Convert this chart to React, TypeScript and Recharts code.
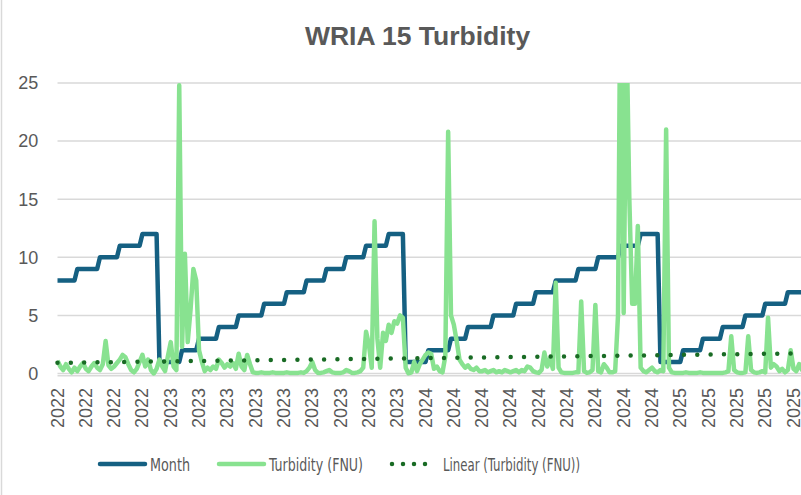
import React from 'react';
import { LineChart, Line, XAxis, YAxis, CartesianGrid } from 'recharts';

const chartTitle = 'WRIA 15 Turbidity';
const seriesNames = ['Month', 'Turbidity (FNU)', 'Linear (Turbidity (FNU))'];
const yTicks = [0, 5, 10, 15, 20, 25];
const startYear = 2022;

// Month number of each sample
const months = [
  8, 8, 8, 8, 8, 8, 8,
  9, 9, 9, 9, 9, 9, 9, 9,
  10, 10, 10, 10, 10, 10, 10,
  11, 11, 11, 11, 11, 11, 11, 11,
  12, 12, 12, 12, 12, 12,
  1, 1, 1, 1, 1, 1, 1, 1,
  2, 2, 2, 2, 2, 2,
  3, 3, 3, 3, 3, 3, 3,
  4, 4, 4, 4, 4, 4, 4,
  5, 5, 5, 5, 5, 5, 5, 5, 5,
  6, 6, 6, 6, 6, 6, 6, 6,
  7, 7, 7, 7, 7, 7, 7,
  8, 8, 8, 8, 8, 8, 8,
  9, 9, 9, 9, 9, 9, 9,
  10, 10, 10, 10, 10, 10, 10,
  11, 11, 11, 11, 11, 11, 11, 11,
  12, 12, 12, 12, 12, 12,
  1, 1, 1, 1, 1, 1, 1, 1,
  2, 2, 2, 2, 2, 2, 2, 2,
  3, 3, 3, 3, 3, 3,
  4, 4, 4, 4, 4, 4, 4, 4, 4,
  5, 5, 5, 5, 5, 5, 5, 5,
  6, 6, 6, 6, 6, 6, 6,
  7, 7, 7, 7, 7, 7, 7,
  8, 8, 8, 8, 8, 8, 8, 8,
  9, 9, 9, 9, 9, 9, 9,
  10, 10, 10, 10, 10, 10, 10, 10,
  11, 11, 11, 11, 11, 11, 11,
  12, 12, 12, 12, 12, 12, 12,
  1, 1, 1, 1, 1, 1, 1, 1,
  2, 2, 2, 2, 2, 2, 2,
  3, 3, 3, 3, 3, 3, 3,
  4, 4, 4, 4, 4, 4, 4, 4,
  5, 5, 5, 5, 5, 5, 5,
  6, 6, 6, 6, 6, 6, 6, 6,
  7, 7, 7, 7, 7, 7, 7, 7, 7, 7, 7, 7,
];

// Turbidity (FNU) of each sample
const turbidity = [
  1.1, 0.6, 0.3, 0.8, 0.4, 0.1, 0.5, 0.2, 0.6, 0.9,
  0.4, 0.2, 0.6, 0.9, 0.5, 0.3, 0.8, 2.8, 0.7, 0.4,
  0.6, 0.9, 1.2, 1.6, 1.4, 0.8, 0.3, 0.1, 0.4, 1.0,
  1.6, 0.6, 1.2, 0.3, 0.0, 0.4, 1.2, 0.6, 0.2, 1.5,
  2.7, 0.6, 0.3, 24.8, 2.3, 10.3, 2.7, 5.5, 9.0, 8.0,
  2.0, 1.0, 0.2, 0.5, 0.3, 0.6, 0.4, 1.2, 0.9, 0.5,
  0.8, 0.6, 0.9, 0.4, 1.7, 0.6, 0.3, 1.6, 0.8, 0.1,
  0.05, 0.05, 0.1, 0.05, 0.05, 0.05, 0.1, 0.05, 0.05, 0.05,
  0.05, 0.1, 0.05, 0.05, 0.05, 0.05, 0.1, 0.05, 0.2, 0.5,
  1.0, 0.3, 0.05, 0.05, 0.1, 0.2, 0.3, 0.1, 0.05, 0.05,
  0.05, 0.1, 0.3, 0.2, 0.05, 0.05, 0.1, 0.2, 0.5, 3.6,
  2.5, 0.5, 13.1, 3.0, 0.5, 3.5, 2.8, 4.2, 3.5, 4.5,
  4.3, 5.0, 4.8, 0.5, 0.0, 0.1, 1.0, 0.2, 0.8, 1.2,
  1.6, 1.8, 1.7, 0.4, 0.6, 0.2, 0.1, 1.5, 20.8, 5.0,
  4.2, 2.8, 1.2, 0.8, 0.5, 0.7, 0.4, 0.3, 0.5, 0.2,
  0.2, 0.3, 0.1, 0.2, 0.3, 0.1, 0.2, 0.1, 0.3, 0.2,
  0.1, 0.2, 0.3, 0.1, 0.3, 0.2, 0.6, 0.5, 0.2, 0.1,
  0.05, 0.3, 1.8, 0.6, 1.3, 0.4, 7.8, 0.5, 0.1, 0.05,
  0.05, 0.05, 0.05, 0.1, 0.1, 6.2, 0.2, 0.05, 0.1, 0.3,
  5.9, 0.2, 0.1, 0.8, 0.5, 0.1, 0.1, 0.2, 5.0, 40,
  5.2, 30, 15, 6.0, 6.0, 12.7, 0.5, 0.2, 0.1, 0.3,
  0.5, 0.2, 0.1, 0.3, 0.2, 21.0, 0.5, 0.1, 0.05, 0.05,
  0.05, 0.05, 0.1, 0.05, 0.05, 0.05, 0.05, 0.1, 0.05, 0.05,
  0.05, 0.05, 0.05, 0.05, 0.05, 0.05, 0.1, 0.2, 3.2, 0.3,
  0.1, 0.05, 0.05, 0.1, 3.2, 0.3, 0.1, 0.05, 0.1, 0.2,
  0.1, 4.8, 0.5, 0.8, 0.6, 0.2, 0.4, 0.1, 0.3, 2.0,
  0.4, 0.2, 0.8, 0.3, 0.2, 0.5, 0.3, 0.2, 0.4, 0.3,
];

// Linear trendline end values (first and last sample)
const trendEnds = [0.92, 1.75];

// Year tick labels for every sample
const years: string[] = [];
{
  let yr = startYear;
  months.forEach((m, i) => {
    if (i > 0 && m < months[i - 1]) yr += 1;
    years.push(String(yr));
  });
}

const data = months.map((m, i) => ({
  idx: i,
  month: m,
  turbidity: turbidity[i],
  trend: i === 0 ? trendEnds[0] : i === months.length - 1 ? trendEnds[1] : null,
}));

const COLOR_MONTH = '#156082';
const COLOR_TURB = '#88e290';
const COLOR_TREND = '#196b24';
const TEXT = '#595959';
const FONT = "'Liberation Sans', Arial, sans-serif";
const NARROW = "'Liberation Sans Narrow', 'Arial Narrow', 'DejaVu Sans Condensed', sans-serif";

const XTick = (props: any) => {
  const { x, y, payload } = props;
  return (
    <text
      x={x}
      y={y}
      transform={`rotate(-90 ${x} ${y})`}
      textAnchor="end"
      dominantBaseline="central"
      fill={TEXT}
      fontSize={18}
      fontFamily={FONT}
    >
      {years[payload.value]}
    </text>
  );
};

export default function App() {
  return (
    <div
      style={{
        position: 'absolute',
        left: 0,
        top: 0,
        width: 801,
        height: 495,
        overflow: 'hidden',
        background: '#ffffff',
      }}
    >
      <LineChart
        width={819}
        height={436}
        data={data}
        margin={{ top: 83, right: 0, bottom: 0, left: 0 }}
      >
        <CartesianGrid vertical={false} stroke="#d9d9d9" strokeWidth={1.5} />
        <XAxis
          dataKey="idx"
          type="category"
          interval={9}
          height={60.18}
          axisLine={false}
          tickLine={false}
          tickSize={6}
          tickMargin={6.18}
          tick={<XTick />}
        />
        <YAxis
          type="number"
          domain={[-0.2, 25]}
          ticks={yTicks}
          allowDataOverflow
          width={57.5}
          axisLine={false}
          tickLine={false}
          tickSize={6}
          tickMargin={13.2}
          tick={{ fill: TEXT, fontSize: 18, fontFamily: FONT }}
        />
        <Line
          dataKey="month"
          name={seriesNames[0]}
          stroke={COLOR_MONTH}
          strokeWidth={4.5}
          strokeLinejoin="round"
          dot={false}
          activeDot={false}
          isAnimationActive={false}
        />
        <Line
          dataKey="turbidity"
          name={seriesNames[1]}
          stroke={COLOR_TURB}
          strokeWidth={4.5}
          strokeLinejoin="round"
          dot={false}
          activeDot={false}
          isAnimationActive={false}
        />
        <Line
          dataKey="trend"
          name={seriesNames[2]}
          stroke={COLOR_TREND}
          strokeWidth={4.5}
          strokeLinecap="round"
          strokeDasharray="0 13.33"
          connectNulls
          dot={false}
          activeDot={false}
          isAnimationActive={false}
        />
      </LineChart>
      <svg
        width={801}
        height={495}
        style={{ position: 'absolute', left: 0, top: 0, pointerEvents: 'none' }}
      >
        <line x1={1.5} y1={0} x2={1.5} y2={495} stroke="#d9d9d9" strokeWidth={1.5} />
        <text
          x={417.5}
          y={45}
          textAnchor="middle"
          fill={TEXT}
          fontSize={26.5}
          fontWeight="bold"
          fontFamily={FONT}
        >
          {chartTitle}
        </text>
        <line x1={100} y1={464} x2={145} y2={464} stroke={COLOR_MONTH} strokeWidth={4.5} strokeLinecap="round" />
        <text x={150} y={470.5} fill={TEXT} fontSize={18.5} fontFamily={NARROW} textLength={40} lengthAdjust="spacingAndGlyphs">
          {seriesNames[0]}
        </text>
        <line x1={219} y1={464} x2={264} y2={464} stroke={COLOR_TURB} strokeWidth={4.5} strokeLinecap="round" />
        <text x={269} y={470.5} fill={TEXT} fontSize={18.5} fontFamily={NARROW} textLength={94} lengthAdjust="spacingAndGlyphs">
          {seriesNames[1]}
        </text>
        <line x1={392} y1={464} x2={436} y2={464} stroke={COLOR_TREND} strokeWidth={4.5} strokeLinecap="round" strokeDasharray="0 11" />
        <text x={443} y={470.5} fill={TEXT} fontSize={18.5} fontFamily={NARROW} textLength={137} lengthAdjust="spacingAndGlyphs">
          {seriesNames[2]}
        </text>
      </svg>
    </div>
  );
}
